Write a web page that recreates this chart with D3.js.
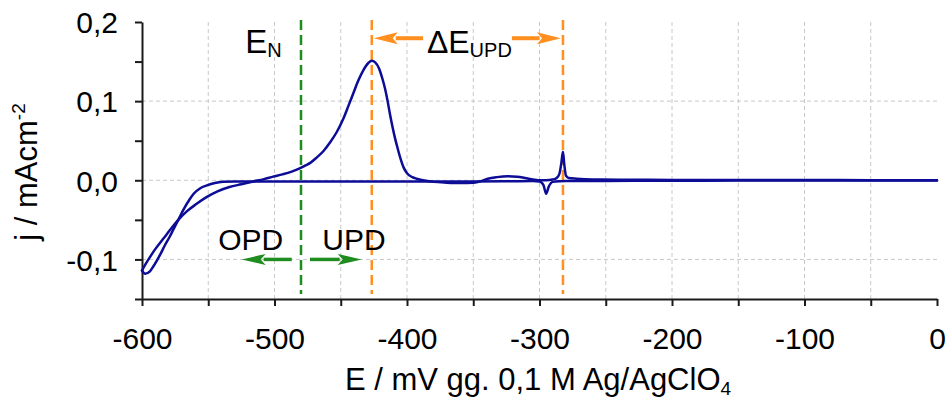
<!DOCTYPE html>
<html>
<head>
<meta charset="utf-8">
<script src="https://cdn.jsdelivr.net/npm/d3@7"></script>
<style>
  html, body { margin: 0; padding: 0; background: #fff; }
  svg { display: block; font-family: "Liberation Sans", Arial, sans-serif; }
</style>
</head>
<body>
<svg id="chart" width="950" height="402"></svg>
<script>
// Cyclic voltammogram: anodic sweep (-600 -> 0 mV) and cathodic sweep (0 -> -600 mV)
const anodicE = [-600, -597, -594, -590, -584, -578, -572.6, -566, -559, -551, -543, -534, -525, -516,
  -508, -501, -494, -487, -481, -477, -473, -468, -463, -458, -453, -448, -444, -440.5, -437, -433,
  -429, -426.6, -424, -421, -418.5, -416.6, -414.5, -412.8, -411, -409, -407, -405, -402.5, -400,
  -396, -392.7, -388, -380, -370, -360, -350, -344, -339, -332, -324,
  -317, -311, -305, -301, -295, -290, -287, -285, -283.5, -282.3, -281.3, -280, -278, -272, -260,
  -240, -200, -150, -100, -50, 0];
const anodicJ = [-0.114, -0.105, -0.097, -0.087, -0.074, -0.061, -0.050, -0.039, -0.030, -0.021, -0.014,
  -0.0085, -0.005, -0.0015, 0.0015, 0.0046, 0.0075, 0.011, 0.015, 0.0185, 0.022, 0.029, 0.037, 0.048,
  0.061, 0.078, 0.095, 0.110, 0.125, 0.139,
  0.1485, 0.151, 0.149, 0.141, 0.128, 0.116, 0.099, 0.083, 0.068, 0.053, 0.040, 0.028, 0.016, 0.009,
  0.004, 0.002, 0.0,
  -0.002, -0.003, -0.0035, -0.003, -0.001, 0.002, 0.004, 0.005, 0.0045, 0.003, 0.001, 0.0, 0.0,
  0.001, 0.003, 0.008, 0.022, 0.036, 0.02, 0.006, 0.003, 0.002, 0.001, 0.0008, 0.0005, 0.0004,
  0.0003, 0.0002, 0.0];

const cathodicE = [0, -50, -100, -150, -200, -250, -270, -280, -285, -290, -293, -295, -297, -300,
  -305, -320, -350, -400, -450, -500, -530, -539, -545, -551, -556, -561, -564, -569, -572.6, -576,
  -579, -583, -586, -589, -591.5, -594, -597.7, -600];
const cathodicJ = [-0.0002, -0.0002, -0.0003, -0.0004, -0.0005, -0.0008, -0.001, -0.001, -0.0012,
  -0.002, -0.008, -0.017, -0.006, -0.0015, -0.001, -0.0012, -0.0015, -0.0015, -0.0015, -0.0015,
  -0.0015, -0.002, -0.0035, -0.0065, -0.010, -0.017, -0.024, -0.038, -0.050, -0.061, -0.071, -0.083,
  -0.093, -0.102, -0.109, -0.115, -0.118, -0.114];

// Axis ticks
const xTicks = [-600, -550, -500, -450, -400, -350, -300, -250, -200, -150, -100, -50, 0];
const xLabels = [-600, -500, -400, -300, -200, -100, 0];
const yTicks = [-0.15, -0.1, -0.05, 0, 0.05, 0.1, 0.15, 0.2];
const yLabels = [-0.1, 0, 0.1, 0.2];
const yGrid = [-0.1, 0, 0.1];

// Marker potentials (mV)
const nernstE = -480;
const updPeakE = -426.6;
const upd2PeakE = -282.3;

const svg = d3.select("#chart");
const x = d3.scaleLinear().domain([-600, 0]).range([142, 937]);
const y = d3.scaleLinear().domain([-0.15, 0.2]).range([299, 22]);

const comma = d3.formatLocale({decimal: ",", thousands: ".", grouping: [3], currency: ["", ""], minus: "-"}).format(".1f");

// grid
const grid = svg.append("g").attr("stroke", "#c8c8c8").attr("stroke-width", 1).attr("stroke-dasharray", "4,3");
grid.selectAll("line.v").data(xTicks.filter(d => d > -600 && d < 0)).join("line")
  .attr("x1", d => x(d)).attr("x2", d => x(d)).attr("y1", y(0.2)).attr("y2", y(-0.15));
grid.selectAll("line.h").data(yGrid).join("line")
  .attr("x1", x(-600)).attr("x2", x(0)).attr("y1", d => y(d)).attr("y2", d => y(d));

// axes
const xAxis = d3.axisBottom(x).tickValues(xTicks).tickSize(7).tickSizeOuter(0)
  .tickFormat(d => xLabels.includes(d) ? String(d) : "");
const yAxis = d3.axisLeft(y).tickValues(yTicks).tickSize(7).tickSizeOuter(0)
  .tickFormat(d => yLabels.some(v => Math.abs(v - d) < 1e-9) ? comma(d) : "");

const gx = svg.append("g").attr("transform", `translate(0,${y(-0.15)})`).call(xAxis);
const gy = svg.append("g").attr("transform", `translate(${x(-600)},0)`).call(yAxis);
[gx, gy].forEach(g => {
  g.select(".domain").attr("stroke", "#1a1a1a").attr("stroke-width", 2);
  g.selectAll(".tick line").attr("stroke", "#1a1a1a").attr("stroke-width", 2);
  g.selectAll(".tick text").attr("fill", "#000").attr("font-size", 30)
    .attr("font-family", "'Liberation Sans', Arial, sans-serif");
});
gx.selectAll(".tick text").attr("dy", 0).attr("y", 50);
gy.selectAll(".tick text").attr("x", -24).attr("dy", "0.36em");

// axis titles
const xt = svg.append("text").attr("x", 538).attr("y", 390).attr("text-anchor", "middle")
  .attr("font-size", 31).attr("fill", "#000");
xt.append("tspan").text("E / mV gg. 0,1 M Ag/AgClO");
xt.append("tspan").attr("font-size", 19).attr("dy", 5).text("4");

const yt = svg.append("text").attr("transform", "translate(37,172) rotate(-90)").attr("text-anchor", "middle")
  .attr("font-size", 31).attr("fill", "#000");
yt.append("tspan").text("j / mAcm");
yt.append("tspan").attr("font-size", 19).attr("dy", -12).text("-2");

// vertical marker lines
const markers = [
  {e: nernstE, color: "#1e8c1e"},
  {e: updPeakE, color: "#ff8f1f"},
  {e: upd2PeakE, color: "#ff8f1f"}
];
svg.append("g").selectAll("line").data(markers).join("line")
  .attr("x1", d => x(d.e)).attr("x2", d => x(d.e)).attr("y1", 20).attr("y2", 294)
  .attr("stroke", d => d.color).attr("stroke-width", 2.5).attr("stroke-dasharray", "10,5");

// curves (points sorted by potential so the monotone interpolation stays smooth)
const line = d3.line().x(d => x(d[0])).y(d => y(d[1])).curve(d3.curveMonotoneX);
const anodic = anodicE.map((e, i) => [e, anodicJ[i]]);
const cathodic = cathodicE.map((e, i) => [e, cathodicJ[i]]).sort((a, b) => a[0] - b[0]);
svg.append("g").selectAll("path").data([cathodic, anodic]).join("path")
  .attr("d", line).attr("fill", "none").attr("stroke", "#0c0c96").attr("stroke-width", 2.5)
  .attr("stroke-linejoin", "round").attr("stroke-linecap", "round");

// arrows
function arrow(fromE, toE, j, color, width, headLen, headHalf) {
  const x0 = x(fromE), x1 = x(toE), yy = y(j);
  const dir = Math.sign(x1 - x0);
  const xb = x1 - dir * headLen;
  svg.append("line").attr("x1", x0).attr("x2", xb + dir * 2).attr("y1", yy).attr("y2", yy)
    .attr("stroke", color).attr("stroke-width", width);
  svg.append("path")
    .attr("d", `M${x1},${yy} L${xb},${yy - headHalf} L${xb + dir * 5},${yy} L${xb},${yy + headHalf} Z`)
    .attr("fill", color);
}
arrow(-387.9, updPeakE + 1.5, 0.1795, "#ff8f1f", 4, 24, 6);
arrow(-320.8, upd2PeakE - 1.5, 0.1795, "#ff8f1f", 4, 24, 6);
arrow(-487, -524.8, -0.1, "#1e8c1e", 3.5, 24, 5.5);
arrow(-473.2, -434.2, -0.1, "#1e8c1e", 3.5, 24, 5.5);

// annotation labels
const en = svg.append("text").attr("x", x(-522)).attr("y", 53).attr("font-size", 33).attr("fill", "#000");
en.append("tspan").text("E");
en.append("tspan").attr("font-size", 20).attr("dy", 4).text("N");

const du = svg.append("text").attr("x", x(-385)).attr("y", 53).attr("font-size", 32).attr("fill", "#000");
du.append("tspan").text("ΔE");
du.append("tspan").attr("font-size", 20).attr("dy", 4).text("UPD");

svg.append("text").attr("x", x(-518)).attr("y", 250).attr("text-anchor", "middle")
  .attr("font-size", 30).attr("fill", "#000").text("OPD");
svg.append("text").attr("x", x(-440)).attr("y", 250).attr("text-anchor", "middle")
  .attr("font-size", 30).attr("fill", "#000").text("UPD");
</script>
</body>
</html>
